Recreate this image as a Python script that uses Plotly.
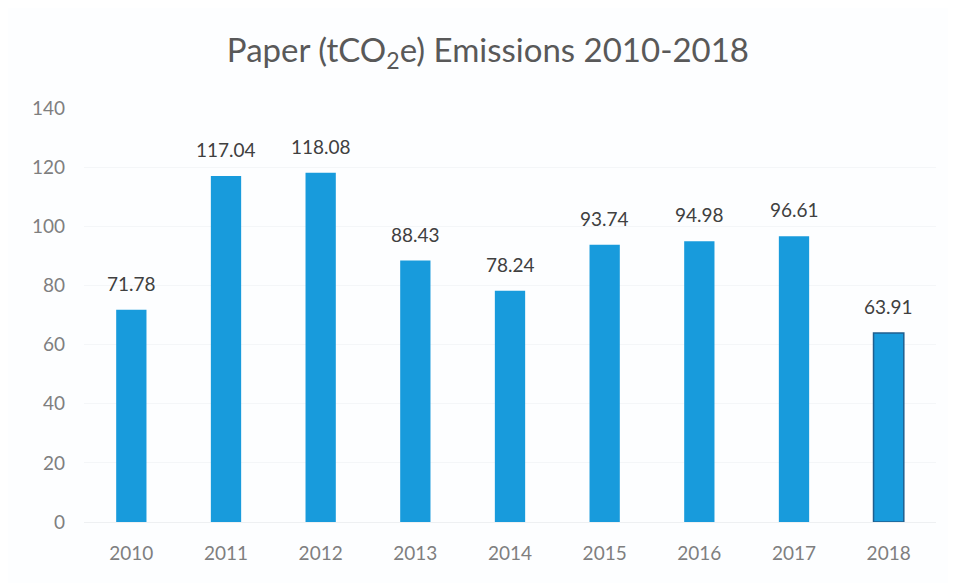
import plotly.graph_objects as go

years = ["2010", "2011", "2012", "2013", "2014", "2015", "2016", "2017", "2018"]
emissions = [71.78, 117.04, 118.08, 88.43, 78.24, 93.74, 94.98, 96.61, 63.91]
y_ticks = [0, 20, 40, 60, 80, 100, 120, 140]

bar_color = "#189bdc"
line_colors = ["rgba(0,0,0,0)"] * (len(years) - 1) + ["#1f5f8f"]
line_widths = [0] * (len(years) - 1) + [1.5]

fig = go.Figure()
fig.add_trace(go.Bar(
    x=years, y=emissions,
    marker=dict(color=bar_color, line=dict(color=line_colors, width=line_widths)),
    hoverinfo="x+y",
))

# category axis: annotations positioned by category index
for i, v in enumerate(emissions):
    fig.add_annotation(x=i, y=v, text=f"{v:.2f}", showarrow=False,
                       yanchor="bottom", yshift=13,
                       font=dict(family="Lato, Open Sans, sans-serif", size=19, color="#404040"))

fig.update_layout(
    width=956, height=583,
    margin=dict(l=76, r=28, t=100, b=69),
    paper_bgcolor="#fdfeff", plot_bgcolor="#fdfeff",
    title=dict(text="Paper (tCO<sub>2</sub>e) Emissions 2010-2018", x=0.502, xanchor="center",
               y=0.927, yanchor="middle",
               font=dict(family="Lato, Open Sans, sans-serif", size=33, color="#595959")),
    bargap=0.68,
    showlegend=False,
    font=dict(family="Lato, Open Sans, sans-serif", size=19, color="#7f7f7f"),
)
fig.update_xaxes(type="category", range=[-0.5, len(years) - 0.5], showgrid=False,
                 showline=True, linecolor="#eef0f2", ticks="", automargin=False,
                 ticklabelstandoff=14, tickfont=dict(size=19, color="#7f7f7f"))
fig.update_yaxes(range=[0, 140], tickvals=y_ticks, showgrid=True, gridcolor="#f4f6f8",
                 zeroline=False, ticks="", ticklabelstandoff=18, automargin=False,
                 tickfont=dict(size=19, color="#7f7f7f"))

fig.write_html("out.html")
